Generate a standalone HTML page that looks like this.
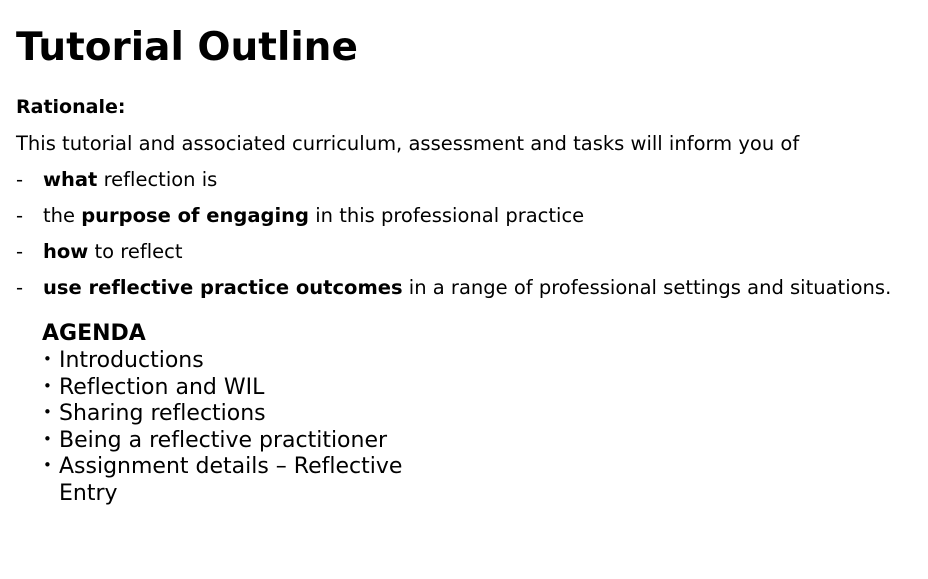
<!DOCTYPE html>
<html><head><meta charset="utf-8"><style>
body{margin:0;width:928px;height:579px;background:#fff;overflow:hidden;position:relative;font-family:"DejaVu Sans","Liberation Sans",sans-serif;color:#000;font-variant-ligatures:none}
.t{position:absolute;white-space:nowrap;line-height:1}
.d{display:inline-block;width:27px}
.b{display:inline-block;width:16px;font-size:15px;line-height:0;position:relative;top:-3px}
</style></head><body>
<div class="t" style="left:16px;top:28px;font-size:39px;font-weight:bold">Tutorial Outline</div>
<div class="t" style="left:16px;top:98px;font-size:19px;font-weight:bold">Rationale:</div>
<div class="t" style="left:16px;top:134px;font-size:19.5px">This tutorial and associated curriculum, assessment and tasks will inform you of</div>
<div>
<div class="t" style="left:16px;top:170px;font-size:19.5px"><span class="d">-</span><b>what</b> reflection is</div>
<div class="t" style="left:16px;top:206px;font-size:19.5px"><span class="d">-</span>the <b>purpose of engaging</b> in this professional practice</div>
<div class="t" style="left:16px;top:242px;font-size:19.5px"><span class="d">-</span><b>how</b> to reflect</div>
<div class="t" style="left:16px;top:278px;font-size:19.5px"><span class="d">-</span><b>use reflective practice outcomes</b> in a range of professional settings and situations.</div>
</div>
<div class="t" style="left:42px;top:323px;font-size:22px;font-weight:bold">AGENDA</div>
<div style="position:absolute;left:43px;top:348px;font-size:22px;line-height:26.6px">
<div><span class="b">•</span>Introductions</div>
<div><span class="b">•</span>Reflection and WIL</div>
<div><span class="b">•</span>Sharing reflections</div>
<div><span class="b">•</span>Being a reflective practitioner</div>
<div><span class="b">•</span>Assignment details – Reflective<br><span class="b"></span>Entry</div>
</div>
</body></html>
